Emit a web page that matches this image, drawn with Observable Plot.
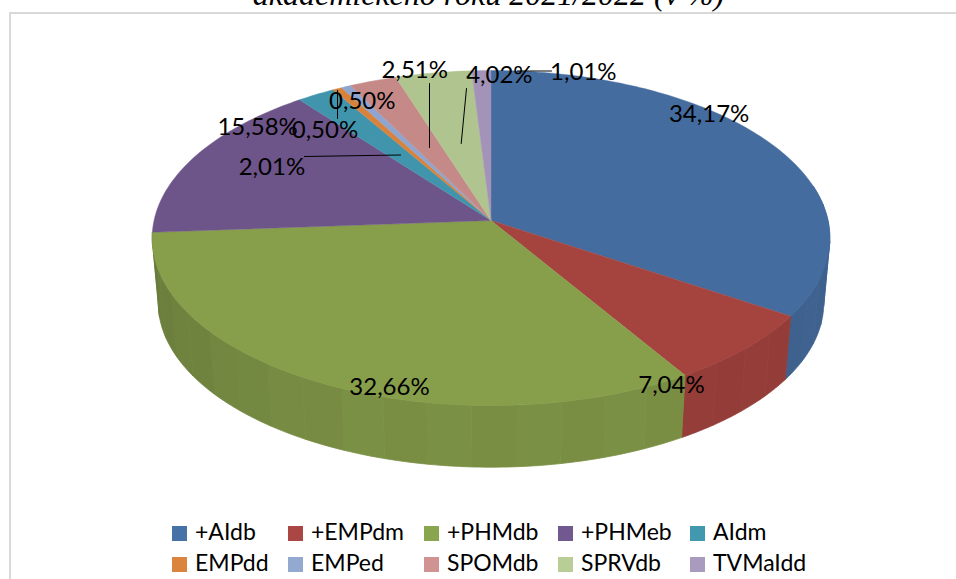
<!DOCTYPE html>
<html><head><meta charset="utf-8">
<script src="https://cdn.jsdelivr.net/npm/d3@7"></script>
<script src="https://cdn.jsdelivr.net/npm/@observablehq/plot@0.6"></script>
<style>
html,body{margin:0;padding:0;background:#fff;width:956px;height:579px;overflow:hidden}
#title{height:12px;overflow:hidden;position:relative}
#title div{position:absolute;left:0;width:977px;text-align:center;bottom:2px;font:italic 32px "Liberation Serif";line-height:32px;color:#000;white-space:nowrap}
#chart svg{display:block}
#legend{position:relative;height:72px;font:23px Lato,sans-serif;color:#000;border-left:2px solid #d9d9d9;margin-left:9px;box-sizing:border-box}
.item{position:absolute;white-space:nowrap;line-height:26px}
.sw{display:inline-block;width:15px;height:15px;margin-right:8px;vertical-align:-1px}
</style></head><body>
<div id="title"><div>akademického roku 2021/2022 (v %)</div></div>
<div id="chart"></div>
<div id="legend"></div>
<script>
const categories=["+AIdb","+EMPdm","+PHMdb","+PHMeb","AIdm","EMPdd","EMPed","SPOMdb","SPRVdb","TVMaIdd"];
const shares=[34.17,7.04,32.66,15.58,2.01,0.50,0.50,2.51,4.02,1.01];
const shareLabels=["34,17%","7,04%","32,66%","15,58%","2,01%","0,50%","0,50%","2,51%","4,02%","1,01%"];
const colors=["#4672a8","#aa4644","#89a54e","#71588f","#4198af","#db843d","#93a9cf","#d19392","#b9cd96","#a99bbd"];
const topColors=["#456c9f","#a5433f","#879f4b","#6e5589","#4095ad","#d9823b","#8da5cf","#c58a88","#afc48e","#a493b8"];
// pie geometry (perspective projection of the disc)
const cx=490.5,cy=220,A=337,B=165.7,k=0.1045,depth=65,shrink=0.982;
const total=d3.sum(shares);
const rim=(deg)=>{const a=deg*Math.PI/180,u=Math.sin(a),v=Math.cos(a),w=1+k*v;return [cx+A*u/w,cy-B*v/w];};
const rimLow=(deg)=>{const a=deg*Math.PI/180,u=Math.sin(a),v=Math.cos(a),w=1+k*v;return [cx+shrink*A*u/w,cy+depth-shrink*B*v/w];};
let acc=0;
const slices=categories.map((c,i)=>{const s=acc/total*360;acc+=shares[i];return {i,c,start:s,end:acc/total*360};});
const faces=[],walls=[];
const lerp=(a,b,t)=>a+(b-a)*t;
slices.forEach(s=>{
  const n=Math.max(2,Math.ceil(s.end-s.start));
  faces.push({id:s.i,x:cx,y:cy});
  for(let j=0;j<=n;j++){const p=rim(lerp(s.start,s.end,j/n));faces.push({id:s.i,x:p[0],y:p[1]});}
  faces.push({id:s.i,x:cx,y:cy});
  if(s.i>2) return; // only the three front slices show a side wall
  const lo=Math.max(s.start,78),hi=s.end;
  const facets=Math.ceil((hi-lo)/7);
  for(let f=0;f<facets;f++){
    const a0=lerp(lo,hi,f/facets),a1=lerp(lo,hi,(f+1)/facets),mid=(a0+a1)/2;
    const shade=(mid<200?0.9:lerp(0.9,0.77,(mid-200)/66))+(f%2?0.006:-0.006);
    const base=d3.rgb(topColors[s.i]);
    const fill=d3.rgb(base.r*shade,base.g*shade,base.b*shade).formatHex();
    const id=s.i*1000+f;
    const up=[],dn=[];
    for(let q=0;q<=6;q++){const t=lerp(a0,a1,q/6);up.push(rim(t));dn.unshift(rimLow(t));}
    [...up,...dn,up[0]].forEach(p=>walls.push({id,fill,x:p[0],y:p[1]}));
  }
});
// data labels: offset from each slice's rim midpoint
const labelOffset=[[-64,-31],[-74,37],[68,4],[62,-29],[-44,73],[25,13],[-21,44],[42,-11],[66,2],[102,2]];
const labels=slices.map((s,i)=>{const p=rim((s.start+s.end)/2);return {t:shareLabels[i],x:p[0]+labelOffset[i][0],y:p[1]+labelOffset[i][1]};});
const leaders=[
 [[304,156],[400,154.5]],
 [[337,118],[337,90]],
 [[429,147],[429,83]],
 [[460.7,143],[466,88]],
 [[517,70.5],[551,70.5]]
].map((pts,i)=>pts.map(p=>({id:i,x:p[0],y:p[1]}))).flat();
const chart=Plot.plot({
  width:956,height:495,margin:0,
  x:{domain:[0,956],range:[0,956],axis:null},
  y:{domain:[12,507],range:[0,495],axis:null},
  marks:[
    Plot.ruleY([12.5],{stroke:"#d9d9d9",strokeWidth:2,x1:9,x2:956}),
    Plot.ruleX([9.5],{stroke:"#d9d9d9",strokeWidth:2,y1:12,y2:507}),
    Plot.line(walls,{x:"x",y:"y",z:"id",fill:"fill",stroke:"fill",strokeWidth:0.8,curve:"linear"}),
    Plot.line(faces,{x:"x",y:"y",z:"id",fill:d=>topColors[d.id],stroke:d=>topColors[d.id],strokeWidth:0.4,curve:"linear"}),
    Plot.line(leaders,{x:"x",y:"y",z:"id",stroke:"#000",strokeWidth:1}),
    Plot.text(labels,{x:"x",y:"y",text:"t",fontSize:24,fontFamily:"Lato",fill:"#000"})
  ]
});
document.getElementById("chart").append(chart);
const leg=document.getElementById("legend");
const colX=[161,277,413,547,679],rowY=[11,42];
categories.forEach((c,i)=>{
  const d=document.createElement("div");d.className="item";
  d.style.left=colX[i%5]+"px";d.style.top=rowY[Math.floor(i/5)]+"px";
  d.innerHTML=`<span class="sw" style="background:${colors[i]}"></span>${c}`;
  leg.append(d);
});
</script></body></html>
